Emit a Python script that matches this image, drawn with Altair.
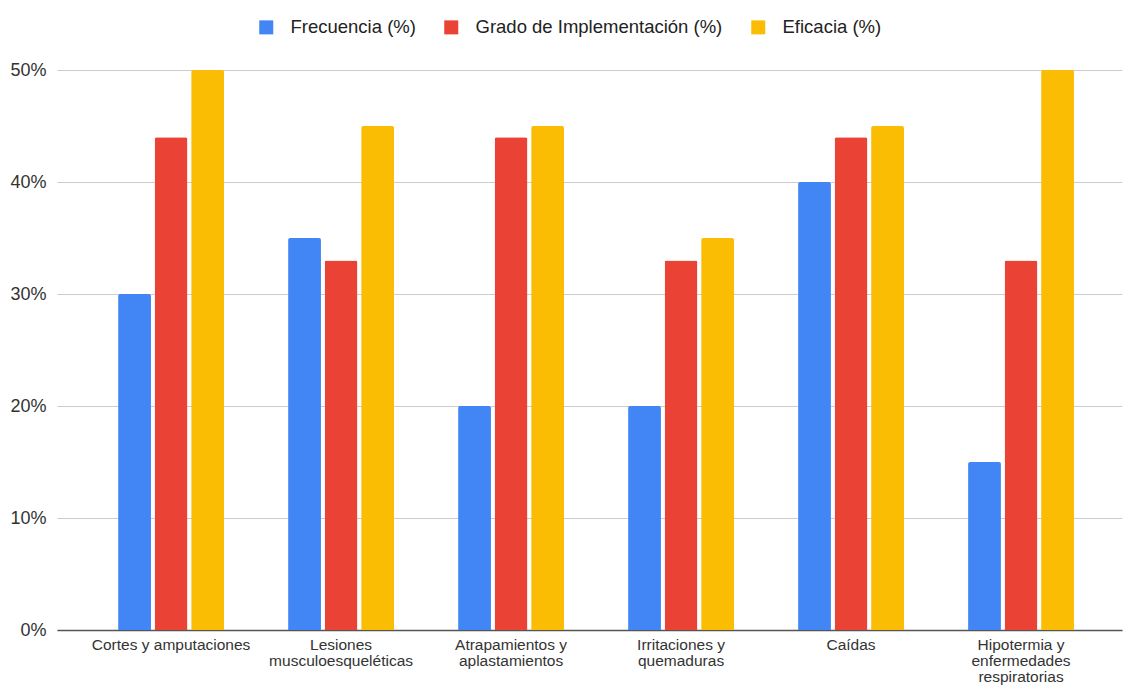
import altair as alt
import pandas as pd

# Hazard categories (line breaks mark where the axis labels wrap)
categories = [
    "Cortes y amputaciones",
    "Lesiones\nmusculoesqueléticas",
    "Atrapamientos y\naplastamientos",
    "Irritaciones y\nquemaduras",
    "Caídas",
    "Hipotermia y\nenfermedades\nrespiratorias",
]

series = ["Frecuencia (%)", "Grado de Implementación (%)", "Eficacia (%)"]
colors = ["#4285F4", "#EA4335", "#FBBC04"]

frecuencia = [30, 35, 20, 20, 40, 15]
grado_implementacion = [44, 33, 44, 33, 44, 33]
eficacia = [50, 45, 45, 35, 45, 50]

y_ticks = [0, 10, 20, 30, 40, 50]

rows = []
for name, values in zip(series, [frecuencia, grado_implementacion, eficacia]):
    for cat, v in zip(categories, values):
        rows.append({"categoria": cat, "serie": name, "valor": v / 100})
df = pd.DataFrame(rows)

FONT = "Liberation Sans"

chart = (
    alt.Chart(df)
    .mark_bar(cornerRadiusTopLeft=2, cornerRadiusTopRight=2)
    .encode(
        x=alt.X(
            "categoria:N",
            sort=categories,
            title=None,
            scale=alt.Scale(paddingInner=0.377, paddingOuter=0.321, align=0.56),
            axis=alt.Axis(
                labelAngle=0,
                labelExpr="split(datum.label, '\\n')",
                labelFont=FONT,
                labelFontSize=15.5,
                labelLineHeight=16,
                labelColor="#333333",
                labelPadding=7,
                ticks=False,
                domain=True,
                domainColor="#555555",
                domainWidth=1.6,
                grid=False,
            ),
        ),
        xOffset=alt.XOffset(
            "serie:N",
            sort=series,
            scale=alt.Scale(paddingInner=0.1, paddingOuter=0),
        ),
        y=alt.Y(
            "valor:Q",
            title=None,
            scale=alt.Scale(domain=[0, 0.5], nice=False),
            axis=alt.Axis(
                values=[t / 100 for t in y_ticks],
                format=".0%",
                labelFont=FONT,
                labelFontSize=18,
                labelColor="#333333",
                labelPadding=11,
                ticks=False,
                domain=False,
                gridColor="#cccccc",
                gridWidth=1,
            ),
        ),
        color=alt.Color(
            "serie:N",
            sort=series,
            scale=alt.Scale(domain=series, range=colors),
            legend=alt.Legend(
                title=None,
                orient="none",
                direction="horizontal",
                legendX=200,
                legendY=-52,
                symbolType="square",
                symbolSize=196,
                symbolStrokeWidth=0,
                labelFont=FONT,
                labelFontSize=18.5,
                labelColor="#222222",
                labelOffset=15,
                labelLimit=1000,
                columnPadding=26,
                padding=0,
            ),
        ),
    )
    .properties(
        width=1065,
        height=560,
        autosize=alt.AutoSizeParams(type="none"),
        padding={"left": 57, "top": 70, "right": 1, "bottom": 56},
        background="white",
    )
    .configure_view(strokeWidth=0, stroke="transparent")
)

chart.save("out.html", embed_options={"renderer": "svg", "actions": False})
